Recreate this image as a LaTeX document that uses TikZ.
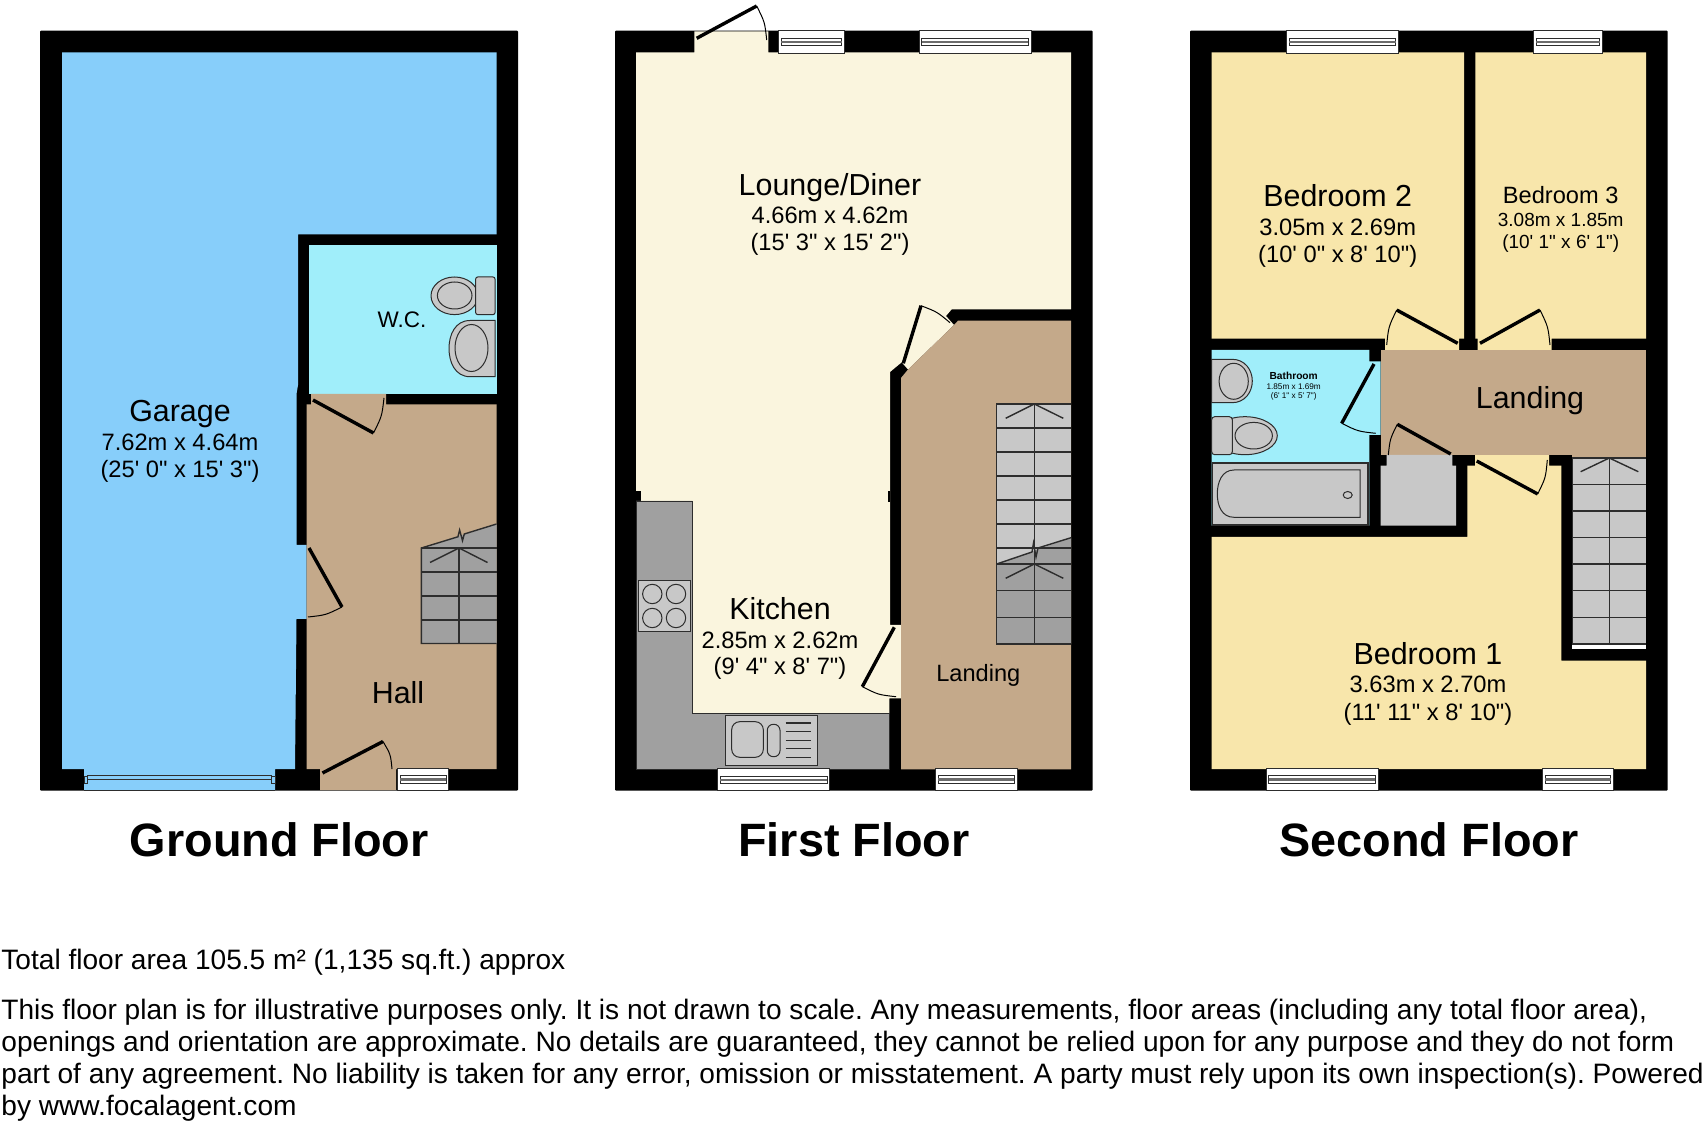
\documentclass[tikz,border=0pt]{standalone}
\usepackage{fontspec}
\usepackage{tikz}
\usetikzlibrary{calc}
\newfontfamily\planfont{Liberation Sans}
\frenchspacing
\definecolor{garageblue}{RGB}{135,206,250}
\definecolor{wetblue}{RGB}{160,238,250}
\definecolor{halltan}{RGB}{196,169,138}
\definecolor{loungecream}{RGB}{250,245,222}
\definecolor{bedyellow}{RGB}{248,230,171}
\definecolor{unitgrey}{RGB}{160,160,160}
\definecolor{lightgrey}{RGB}{200,200,200}
\definecolor{inkgrey}{RGB}{45,45,45}
\tikzset{
	shell/.style={fill=black,rounded corners=0.5pt},
	blade/.style={line width=1.7pt,black},
	swing/.style={line width=0.5pt,black},
	pane/.style={fill=white,draw=inkgrey,line width=0.4pt},
	fixture/.style={fill=lightgrey,draw=inkgrey,line width=0.5pt},
	tread/.style={draw=inkgrey,line width=0.7pt},
	roomname/.style={anchor=base,inner sep=0pt,font=\planfont\fontsize{15.2}{18}\selectfont},
	midname/.style={anchor=base,inner sep=0pt,font=\planfont\fontsize{11.8}{14}\selectfont},
	roomsize/.style={anchor=base,inner sep=0pt,font=\planfont\fontsize{11.85}{14}\selectfont},
	smallsize/.style={anchor=base,inner sep=0pt,font=\planfont\fontsize{9.5}{11}\selectfont},
	tinyname/.style={anchor=base,inner sep=0pt,font=\planfont\bfseries\fontsize{5.1}{6}\selectfont},
	tinysize/.style={anchor=base,inner sep=0pt,font=\planfont\fontsize{4.1}{5}\selectfont},
	floorname/.style={anchor=base,inner sep=0pt,font=\planfont\bfseries\fontsize{23.4}{28}\selectfont},
	notetext/.style={anchor=base west,inner sep=0pt,font=\planfont\fontsize{14.05}{17}\selectfont},
}
\newcommand{\Door}[3]{
	\draw[blade] #1 -- #2;
	\draw[swing] #2 .. controls ($0.524*#2+0.524*#3-0.048*#1$) .. #3;
}
\newcommand{\Pane}[4]{
	\draw[pane] (#1,#3) rectangle (#2,#4);
	\draw[pane] (#1+2.7,#3+7.5) rectangle (#2-2.7,#4-7.5);
	\fill[inkgrey!70] (#1+2.7,#3+10) rectangle (#2-2.7,#3+12.5);
}
\begin{document}
\begin{tikzpicture}[x=0.5pt,y=-0.5pt]
	\useasboundingbox (0,0) rectangle (1704,1128);
	\fill[white] (0,0) rectangle (1704,1128);

	% ground floor
	\fill[shell] (40,30.7) rectangle (518,790.7);
	\fill[garageblue] (62,52.3) -- (496.5,52.3) -- (496.5,234.4) -- (298,234.4) -- (298,385) -- (296.5,394) -- (296.5,545) -- (306.5,545) -- (306.5,619) -- (296.5,619) -- (295,769) -- (275,769) -- (275,790) -- (84,790) -- (84,769) -- (62,769) -- cycle;
	\fill[wetblue] (309,245) rectangle (496.5,394);
	\fill[halltan] (311,394) -- (386,394) -- (386,404.3) -- (496.5,404.3) -- (496.5,769) -- (396,769) -- (396,790) -- (320,790) -- (320,769) -- (306.5,769) -- (306.5,404.3) -- (311,404.3) -- cycle;
	\draw[inkgrey,line width=0.5pt] (87.7,775.7) rectangle (271.3,779.3);
	\draw[inkgrey,line width=0.5pt] (84,776) rectangle (87.7,783.7);
	\draw[inkgrey,line width=0.5pt] (271.3,776) rectangle (275,783.7);
	\draw[inkgrey,line width=0.5pt] (84,790) -- (275,790);
	\Pane{397.5}{448.6}{768}{790.7}
	\Door{(309,548)}{(342,607)}{(308,617)}
	\Door{(313,400)}{(373.5,433)}{(384,398)}
	\Door{(322.5,773)}{(383,741.5)}{(392,769)}
	\fill[unitgrey] (421.4,548) -- (496.5,524) -- (496.5,643.5) -- (421.4,643.5) -- cycle;
	\draw[tread] (496.5,524) -- (464.3,534) -- (462.5,540.7) -- (459.6,530) -- (457.9,536.8) -- (421.4,548) -- (421.4,643.5) -- (496.5,643.5);
	\draw[tread] (421.4,548) -- (496.5,548) (421.4,572) -- (496.5,572) (421.4,596) -- (496.5,596) (421.4,620) -- (496.5,620) (459,548) -- (459,643.5);
	\draw[tread] (430,562.5) -- (459,548) -- (487.5,562.5);
	\draw[fixture] (454.5,295.8) ellipse [x radius=23.5,y radius=18.8];
	\draw[fixture] (454.7,295.5) ellipse [x radius=17.3,y radius=13.5];
	\draw[fixture,rounded corners=1pt] (475.7,277) rectangle (495,314.6);
	\draw[fixture] (495,320.5) -- (470,320.5) .. controls (455,320.5) and (449,335) .. (449,348.5) .. controls (449,362) and (455,376.7) .. (470,376.7) -- (495,376.7) -- cycle;
	\draw[fixture] (471.5,348) ellipse [x radius=16.5,y radius=23.5];
	\node[roomname] (garage) at (180,422) {Garage};
	\node[roomsize] (garagem) at (180,451) {7.62m x 4.64m};
	\node[roomsize] (garageft) at (180,478) {(25' 0" x 15' 3")};
	\node[midname,font=\planfont\fontsize{11.25}{14}\selectfont] (wc) at (402,327.3) {W.C.};
	\node[roomname] (hall) at (398,704) {Hall};
	\node[floorname] (groundfloor) at (279.3,856) {Ground Floor};

	% first floor
	\fill[shell] (615,30.7) rectangle (1092.7,790.7);
	\fill[loungecream] (636,52.3) -- (694.3,52.3) -- (694.3,31.5) -- (768.3,31.5) -- (768.3,52.3) -- (1071,52.3) -- (1071,309.3) -- (951.7,309.3) -- (946,316) -- (954,325) -- (908,369.5) -- (901.7,362.3) -- (890,372) -- (890,625) -- (901,625) -- (901,698.3) -- (889.3,698.3) -- (889.3,769.3) -- (636,769.3) -- cycle;
	\fill[halltan] (958,320.7) -- (1071,320.7) -- (1071,769.3) -- (901,769.3) -- (901,378) -- (908,369.5) -- (954,325) -- cycle;
	\fill[black] (636,490.7) rectangle (640.7,501);
	\fill[black] (887.7,490.7) rectangle (890,501.7);
	\draw[fill=unitgrey,draw=inkgrey,line width=0.4pt] (636,501) -- (692.3,501) -- (692.3,713.3) -- (889.3,713.3) -- (889.3,769.3) -- (636,769.3) -- cycle;
	\draw[fixture] (638.3,580.3) rectangle (690,632);
	\draw[fixture] (652.3,594) circle (9.7);
	\draw[fixture] (676,594) circle (9.7);
	\draw[fixture] (652.3,618) circle (9.7);
	\draw[fixture] (676,618) circle (9.7);
	\draw[fixture] (725.7,715.3) rectangle (817,765);
	\draw[fixture,rounded corners=4pt] (731.7,721.7) rectangle (763.3,757.3);
	\draw[fixture,rounded corners=3pt] (767.3,724.3) rectangle (780,756.7);
	\draw[tread] (785.7,723) -- (811,723) (785.7,731.7) -- (811,731.7) (785.7,740.3) -- (811,740.3) (785.7,748.7) -- (811,748.7) (785.7,757.3) -- (811,757.3);
	\Pane{778.7}{844.3}{30.7}{53.3}
	\Pane{919}{1031}{30.7}{53.3}
	\Pane{717.7}{829.7}{768.5}{790.7}
	\Pane{935.3}{1017}{768.3}{790.7}
	\Door{(696.7,38.3)}{(756.7,6)}{(766.7,40)}
	\Door{(903.3,363.3)}{(921,305.7)}{(950,322.7)}
	\Door{(894.3,627.3)}{(862.3,686.7)}{(896,696.7)}
	\fill[lightgrey] (996.7,404) rectangle (1071,564);
	\fill[unitgrey] (996.7,564) -- (1071,537.7) -- (1071,644) -- (996.7,644) -- cycle;
	\draw[tread] (1071,404) -- (996.7,404) -- (996.7,644) -- (1071,644);
	\draw[tread] (996.7,428) -- (1071,428) (996.7,452) -- (1071,452) (996.7,476) -- (1071,476) (996.7,500) -- (1071,500) (996.7,524) -- (1071,524) (996.7,548) -- (1071,548) (996.7,564) -- (1071,564) (996.7,590.7) -- (1071,590.7) (996.7,617.3) -- (1071,617.3) (1034.3,404) -- (1034.3,644);
	\draw[tread] (996.7,564) -- (1032,552) -- (1033.5,543) -- (1036,557) -- (1038,548) -- (1071,537.7);
	\draw[tread] (1005.7,418.3) -- (1034.3,404) -- (1063.3,418.3);
	\draw[tread] (1005.7,578.3) -- (1034.3,564) -- (1063.3,578.3);
	\node[roomname] (lounge) at (830,196) {Lounge/Diner};
	\node[roomsize] (loungem) at (830,224) {4.66m x 4.62m};
	\node[roomsize] (loungeft) at (830,251) {(15' 3" x 15' 2")};
	\node[roomname] (kitchen) at (780,619.3) {Kitchen};
	\node[roomsize] (kitchenm) at (780,648.7) {2.85m x 2.62m};
	\node[roomsize] (kitchenft) at (780,675) {(9' 4" x 8' 7")};
	\node[midname] (landinga) at (978.3,682) {Landing};
	\node[floorname] (firstfloor) at (854,856) {First Floor};

	% second floor
	\fill[shell] (1190,30.7) rectangle (1667.7,790.7);
	\fill[bedyellow] (1211.7,52.3) -- (1464,52.3) -- (1464,338.7) -- (1459,338.7) -- (1459,350) -- (1385,350) -- (1385,338.7) -- (1211.7,338.7) -- cycle;
	\fill[bedyellow] (1475.3,52.3) -- (1646,52.3) -- (1646,338.7) -- (1551.7,338.7) -- (1551.7,350) -- (1477.7,350) -- (1477.7,338.7) -- (1475.3,338.7) -- cycle;
	\fill[bedyellow] (1211.7,537) -- (1467.3,537) -- (1467.3,465.7) -- (1475,465.7) -- (1475,455) -- (1549,455) -- (1549,465.7) -- (1561.3,465.7) -- (1561.3,660.7) -- (1646,660.7) -- (1646,769) -- (1211.7,769) -- cycle;
	\fill[halltan] (1380.7,350) rectangle (1646,455);
	\fill[wetblue] (1211.7,350) -- (1369.3,350) -- (1369.3,361.3) -- (1380.7,361.3) -- (1380.7,435) -- (1369.3,435) -- (1369.3,525.7) -- (1211.7,525.7) -- cycle;
	\fill[lightgrey] (1386.7,455) -- (1452.3,455) -- (1452.3,465.7) -- (1456,465.7) -- (1456,525.7) -- (1380.7,525.7) -- (1380.7,465.7) -- (1386.7,465.7) -- cycle;
	\fill[halltan] (1572.3,455) rectangle (1646,458);
	\fill[lightgrey] (1572.3,458) rectangle (1646,644);
	\fill[white] (1572.3,644) rectangle (1646,649.3);
	\draw[tread] (1646,458) -- (1572.3,458) -- (1572.3,644) -- (1646,644);
	\draw[tread] (1572.3,484.3) -- (1646,484.3) (1572.3,511) -- (1646,511) (1572.3,537.3) -- (1646,537.3) (1572.3,564) -- (1646,564) (1572.3,590.7) -- (1646,590.7) (1572.3,617.3) -- (1646,617.3) (1609.3,458) -- (1609.3,644);
	\draw[tread] (1580.7,471.7) -- (1609.3,458) -- (1638.3,471.7);
	\draw[fixture,line width=0.8pt] (1212.3,463) rectangle (1367.7,525);
	\draw[fixture] (1360,470) -- (1234,470) .. controls (1222,470) and (1217.3,482) .. (1217.3,494) .. controls (1217.3,506) and (1222,517.3) .. (1234,517.3) -- (1360,517.3) -- cycle;
	\draw[fixture] (1347.7,495) ellipse [x radius=4.5,y radius=3.5];
	\draw[fixture] (1211.7,359.3) -- (1232,359.3) .. controls (1245,359.3) and (1252.3,370) .. (1252.3,381) .. controls (1252.3,392) and (1245,402.7) .. (1232,402.7) -- (1211.7,402.7) -- cycle;
	\draw[fixture] (1233.7,381.3) ellipse [x radius=14.6,y radius=18];
	\draw[fixture] (1245,435.7) ellipse [x radius=32.3,y radius=19];
	\draw[fixture] (1253.7,435.7) ellipse [x radius=18.7,y radius=13.3];
	\draw[fixture,rounded corners=1.5pt] (1211.7,416.7) rectangle (1232.3,454.7);
	\Pane{1286.7}{1398.3}{30.7}{53.3}
	\Pane{1533.3}{1602.3}{30.7}{53.3}
	\Pane{1266}{1378}{768.3}{790.7}
	\Pane{1542.7}{1613.3}{768.3}{790.7}
	\Door{(1457.7,343.3)}{(1396.7,310)}{(1386.7,345)}
	\Door{(1480,343.3)}{(1540,310)}{(1550,345)}
	\Door{(1374,364)}{(1341.7,423.3)}{(1375.7,433.3)}
	\Door{(1450.7,454)}{(1397.3,424.3)}{(1388.3,455)}
	\Door{(1476.7,461)}{(1537.7,494)}{(1547.3,460)}
	\node[roomname] (bedtwo) at (1337.7,207) {Bedroom 2};
	\node[roomsize] (bedtwom) at (1337.7,236) {3.05m x 2.69m};
	\node[roomsize] (bedtwoft) at (1337.7,263) {(10' 0" x 8' 10")};
	\node[midname] (bedthree) at (1560.7,203.8) {Bedroom 3};
	\node[smallsize] (bedthreem) at (1560.7,227) {3.08m x 1.85m};
	\node[smallsize] (bedthreeft) at (1560.7,248.3) {(10' 1" x 6' 1")};
	\node[roomname] (bedone) at (1428,664.3) {Bedroom 1};
	\node[roomsize] (bedonem) at (1428,692.7) {3.63m x 2.70m};
	\node[roomsize] (bedoneft) at (1428,720) {(11' 11" x 8' 10")};
	\node[roomname] (landingb) at (1530,408.5) {Landing};
	\node[tinyname] (bath) at (1293.7,379.5) {Bathroom};
	\node[tinysize] (bathm) at (1293.7,390) {1.85m x 1.69m};
	\node[tinysize] (bathft) at (1293.7,398.3) {(6' 1" x 5' 7")};
	\node[floorname] (secondfloor) at (1429,856) {Second Floor};

	\node[notetext] (total) at (1,969) {Total floor area 105.5 m² (1,135 sq.ft.) approx};
	\node[notetext] (notea) at (1,1019.3) {This floor plan is for illustrative purposes only. It is not drawn to scale. Any measurements, floor areas (including any total floor area),};
	\node[notetext] (noteb) at (1,1051) {openings and orientation are approximate. No details are guaranteed, they cannot be relied upon for any purpose and they do not form};
	\node[notetext] (notec) at (1,1083.4) {part of any agreement. No liability is taken for any error, omission or misstatement. A party must rely upon its own inspection(s). Powered};
	\node[notetext] (noted) at (1,1115) {by www.focalagent.com};
\end{tikzpicture}
\end{document}
